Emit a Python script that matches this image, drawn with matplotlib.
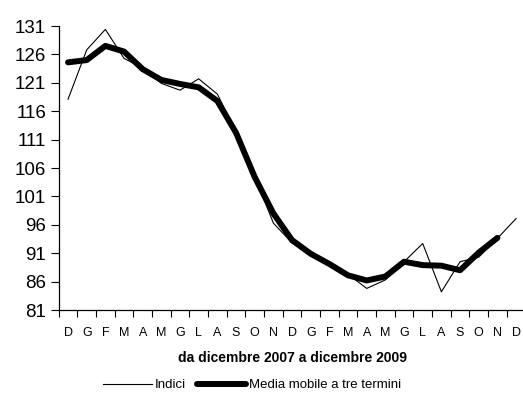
import matplotlib
matplotlib.use("Agg")
import matplotlib.pyplot as plt
import numpy as np

months = ["D", "G", "F", "M", "A", "M", "G", "L", "A", "S", "O", "N",
          "D", "G", "F", "M", "A", "M", "G", "L", "A", "S", "O", "N", "D"]
indici = [118.1, 126.8, 130.4, 125.3, 123.6, 120.9, 119.7, 121.7, 119.0, 112.4,
          104.5, 96.3, 92.8, 90.7, 89.2, 87.3, 84.8, 86.3, 89.5, 92.7,
          84.2, 89.5, 90.3, 93.6, 97.1]
media = [124.6, 125.0, 127.5, 126.5, 123.4, 121.5, 120.8, 120.2, 117.8, 112.2,
         104.4, 98.0, 93.3, 90.9, 89.1, 87.1, 86.2, 86.9, 89.5, 88.9,
         88.8, 88.0, 91.1, 93.7]
yticks = [81, 86, 91, 96, 101, 106, 111, 116, 121, 126, 131]

plt.rcParams['font.family'] = ['Liberation Sans', 'DejaVu Sans']

fig = plt.figure(figsize=(5.23, 4.03), dpi=100)
ax = fig.add_axes([58.7 / 523, 93 / 403, 466.7 / 523, 284 / 403])

x = np.arange(len(months))
l1, = ax.plot(x, indici, color='black', lw=0.8, label='Indici')
l2, = ax.plot(np.arange(len(media)), media, color='black', lw=4.3,
              solid_capstyle='round', solid_joinstyle='round',
              label='Media mobile a tre termini')

ax.set_xlim(-0.5, len(months) - 0.5)
ax.set_ylim(81, 131)
ax.set_yticks(yticks)
ax.set_yticklabels([str(v) for v in yticks], fontsize=13.5)
ax.set_xticks(x)
ax.set_xticklabels(months, fontsize=9)
ax.set_xticks(np.arange(-0.5, len(months)), minor=True)
ax.tick_params(axis='x', which='major', length=0, pad=12)
ax.tick_params(axis='x', which='minor', length=5, width=0.8, direction='out')
ax.tick_params(axis='y', length=6, width=0.8, direction='out', pad=3)

for s in ['top', 'right']:
    ax.spines[s].set_visible(False)
for s in ['left', 'bottom']:
    ax.spines[s].set_linewidth(0.9)

ax.set_xlabel("da dicembre 2007 a dicembre 2009", fontsize=10,
              fontweight='bold', labelpad=9)

fig.legend(handles=[l1, l2], loc='center', bbox_to_anchor=(252 / 523, 1 - 385 / 403),
           ncol=2, frameon=False, fontsize=9.5, handlelength=3.7,
           handletextpad=0.2, columnspacing=0.9)

fig.savefig("out.png", dpi=100)
